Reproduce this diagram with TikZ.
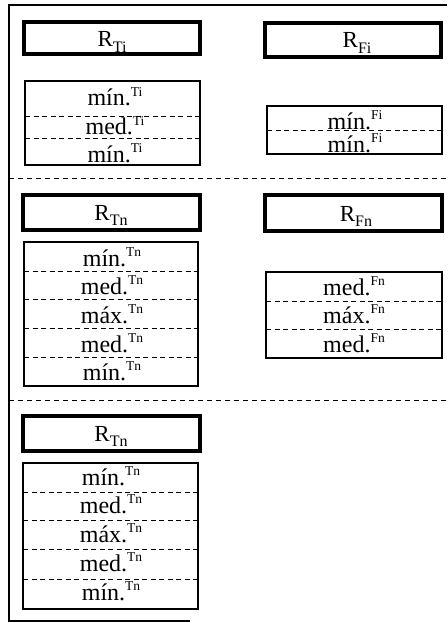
\documentclass[tikz,border=0pt]{standalone}
\usepackage{fontspec}
\setmainfont{Liberation Serif}
\newcommand\supl[2]{#1\raisebox{0.4em}{\fontsize{13.5}{13.5}\selectfont #2}}
\newcommand\ttlR[1]{R\raisebox{-0.22em}{\fontsize{16}{16}\selectfont #1}}
\begin{document}
\begin{tikzpicture}[x=1pt,y=-1pt,
  frame/.style={line width=1.2pt},
  titlebox/.style={line width=3.2pt},
  cbox/.style={line width=1.1pt},
  sepline/.style={line width=1pt,dash pattern=on 5pt off 4pt},
  rowline/.style={line width=0.9pt,dash pattern=on 5pt off 3.5pt},
  txt/.style={anchor=base,inner sep=0pt,font=\fontsize{24}{24}\selectfont},
  ttxt/.style={anchor=base,inner sep=0pt,font=\fontsize{23}{23}\selectfont}]
\useasboundingbox (0,0) rectangle (447,623);
% outer frame
\draw[frame] (447,5) -- (9,5) -- (9,621) -- (190,621);
% separators
\draw[sepline] (9,178) -- (447,178);
\draw[sepline] (9,400) -- (447,400);
% ---- row 1 ----
\draw[titlebox] (24,22) rectangle (200,54);
\node[ttxt] (tti) at (112,47) {\ttlR{Ti}};
\draw[titlebox] (265,23) rectangle (441,57);
\node[ttxt] (tfi) at (357,48) {\ttlR{Fi}};
\draw[cbox] (25,81) rectangle (200,165);
\draw[rowline] (25,116) -- (200,116);
\draw[rowline] (25,138) -- (200,138);
\node[txt] (ti1) at (115,106) {\supl{mín.}{Ti}};
\node[txt] (ti2) at (115,135) {\supl{med.}{Ti}};
\node[txt] (ti3) at (115,162) {\supl{mín.}{Ti}};
\draw[cbox] (267,106) rectangle (442,154);
\draw[rowline] (267,130) -- (442,130);
\node[txt] (fi1) at (355,129) {\supl{mín.}{Fi}};
\node[txt] (fi2) at (355,152.5) {\supl{mín.}{Fi}};
% ---- row 2 ----
\draw[titlebox] (23,195) rectangle (200,230);
\node[ttxt] (ttn) at (111,220) {\ttlR{Tn}};
\draw[titlebox] (265,195) rectangle (442,231);
\node[ttxt] (tfn) at (356,221) {\ttlR{Fn}};
\draw[cbox] (24,242) rectangle (198,386);
\foreach \yy in {271,299,328,357} \draw[rowline] (24,\yy) -- (198,\yy);
\node[txt] (tn1) at (112,266) {\supl{mín.}{Tn}};
\node[txt] (tn2) at (112,294) {\supl{med.}{Tn}};
\node[txt] (tn3) at (112,323) {\supl{máx.}{Tn}};
\node[txt] (tn4) at (112,352) {\supl{med.}{Tn}};
\node[txt] (tn5) at (112,380) {\supl{mín.}{Tn}};
\draw[cbox] (266,272) rectangle (442,358);
\draw[rowline] (266,301) -- (442,301);
\draw[rowline] (266,329) -- (442,329);
\node[txt] (fn1) at (354,295) {\supl{med.}{Fn}};
\node[txt] (fn2) at (354,323) {\supl{máx.}{Fn}};
\node[txt] (fn3) at (354,352) {\supl{med.}{Fn}};
% ---- row 3 ----
\draw[titlebox] (23,416) rectangle (200,451);
\node[ttxt] (ttn3) at (111,441) {\ttlR{Tn}};
\draw[cbox] (23,463) rectangle (198,609);
\foreach \yy in {492,520,549,579} \draw[rowline] (23,\yy) -- (198,\yy);
\node[txt] (un1) at (111,485) {\supl{mín.}{Tn}};
\node[txt] (un2) at (111,513) {\supl{med.}{Tn}};
\node[txt] (un3) at (111,542) {\supl{máx.}{Tn}};
\node[txt] (un4) at (111,571) {\supl{med.}{Tn}};
\node[txt] (un5) at (111,600) {\supl{mín.}{Tn}};
\end{tikzpicture}
\end{document}
